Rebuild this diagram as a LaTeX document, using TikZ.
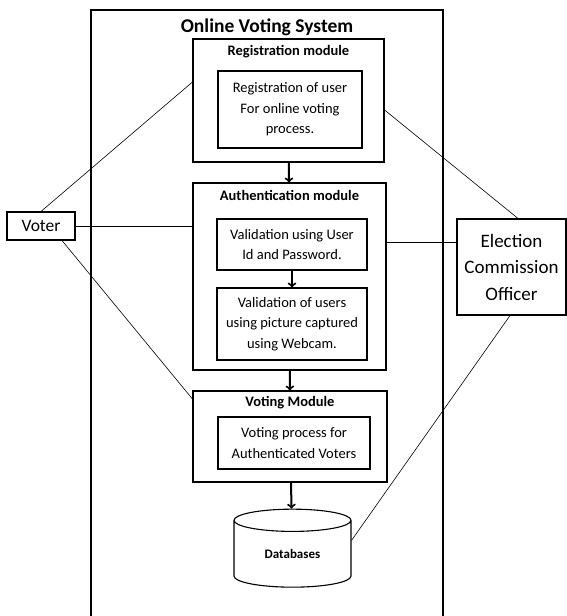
\documentclass[tikz,border=0pt]{standalone}
\usepackage{fontspec}
\setmainfont{Carlito}
\usetikzlibrary{shapes.geometric}

\begin{document}
\begin{tikzpicture}[x=1pt,y=-1pt]

    \tikzset{modbox/.style={draw,line width=1.1pt,inner sep=0pt},
             inbox/.style={draw,line width=1.1pt,inner sep=0pt,align=center,font=\fontsize{14.5}{20.5}\selectfont},
             modtitle/.style={font=\bfseries\fontsize{14.5}{16}\selectfont}}
    \useasboundingbox (0,0) rectangle (567,616);

    % system frame, open at the bottom
    \draw[line width=1.1pt] (91,616) -- (91,10) -- (443,10) -- (443,616);
    \node[font=\bfseries\fontsize{19.5}{22}\selectfont] (sys) at (267,27) {Online Voting System};

    \node[modbox,minimum width=191,minimum height=123] (reg) at (288.5,100.5) {};
    \node[modtitle] (regt) at (288.5,52) {Registration module};
    \node[inbox,minimum width=144,minimum height=77] (regin) at (290,109.5)
        {Registration of user\\For online voting\\process.};

    \node[modbox,minimum width=193,minimum height=187] (auth) at (289.5,276.5) {};
    \node[modtitle] (autht) at (289.5,195) {Authentication module};
    \node[inbox,minimum width=150,minimum height=51] (auth1) at (292,244.5)
        {Validation using User\\Id and Password.};
    \node[inbox,minimum width=150,minimum height=72] (auth2) at (292,324)
        {Validation of users\\using picture captured\\using Webcam.};

    \node[modbox,minimum width=194,minimum height=91] (vote) at (290,436.5) {};
    \node[modtitle] (votet) at (290,403) {Voting Module};
    \node[inbox,minimum width=152,minimum height=52] (votein) at (294,443)
        {Voting process for\\Authenticated Voters};

    \node[draw,line width=1.1pt,cylinder,shape border rotate=90,aspect=0.4,inner sep=0pt,
          minimum width=117,minimum height=78,font=\bfseries\fontsize{13}{15}\selectfont]
          (db) at (292.5,554) {Databases};

    \node[draw,line width=1.1pt,minimum width=68,minimum height=28,inner sep=0pt,
          font=\fontsize{17.5}{19}\selectfont] (voter) at (41,226) {Voter};
    \node[draw,line width=1.1pt,minimum width=109,minimum height=96,inner sep=0pt,align=center,
          font=\fontsize{19}{26.5}\selectfont] (eco) at (511.5,267) {Election\\Commission\\Officer};

    \begin{scope}[every path/.style={->,line width=2pt}]
        \draw (reg) -- (auth);
        \draw (auth1) -- (auth2);
        \draw (auth) -- (vote);
        \draw (vote) -- (db);
    \end{scope}

    \draw[line width=0.6pt] (voter.north) -- ([yshift=18.5pt]reg.west);
    \draw[line width=0.6pt] (voter.east) -- (voter.east -| auth.west);
    \draw[line width=0.6pt] ([xshift=21pt]voter.south) -- ([yshift=37.5pt]vote.west);

    \draw[line width=0.6pt] ([xshift=6.5pt]eco.north) -- ([yshift=-9.5pt]reg.east);
    \draw[line width=0.6pt] ([yshift=25pt]eco.west) -- ([yshift=25pt]eco.west -| auth.east);
    \draw[line width=0.6pt] ([xshift=-1.5pt]eco.south) -- (db.13);
\end{tikzpicture}
\end{document}
